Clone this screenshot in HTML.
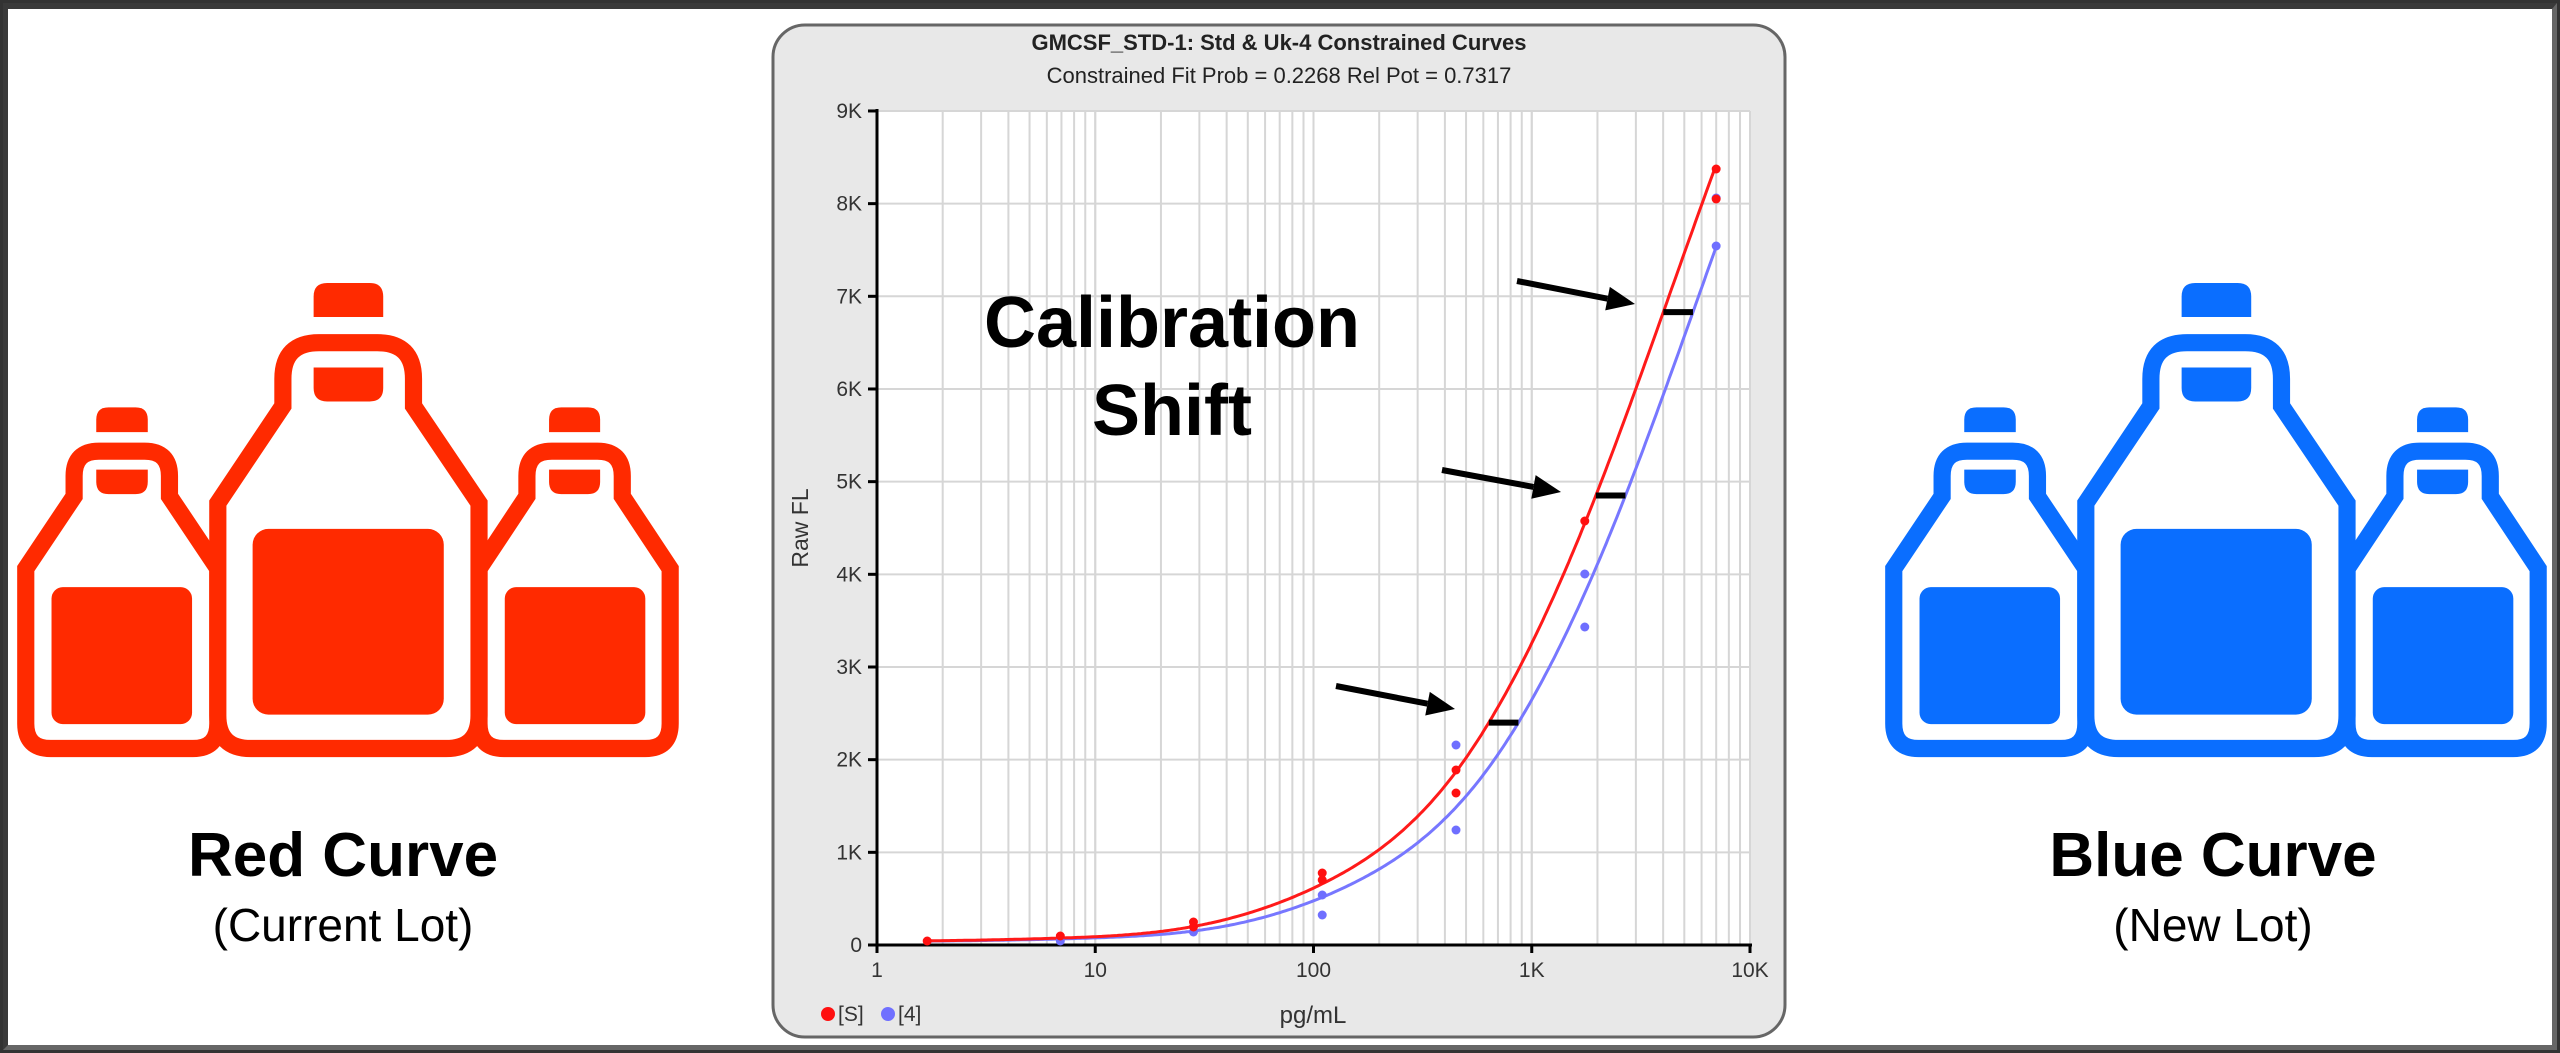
<!DOCTYPE html>
<html><head><meta charset="utf-8"><style>
html,body{margin:0;padding:0;}
body{width:2560px;height:1053px;position:relative;background:#fff;overflow:hidden;font-family:"Liberation Sans",sans-serif;}
.frame{position:absolute;left:0;top:0;width:2560px;height:1053px;box-sizing:border-box;border:3px solid #333;}
.frame2{position:absolute;left:3px;top:3px;right:3px;bottom:3px;border:5px solid #3a3a3a;border-right-color:#666;border-bottom-color:#666;border-top-width:6px;}
.lbl{position:absolute;text-align:center;width:700px;color:#000;}
.big{font-weight:bold;font-size:62px;}
.small{font-size:46px;}
</style></head><body>
<div class="frame"></div><div class="frame2"></div>

<svg style="position:absolute;left:0;top:250px" width="700" height="720" viewBox="0 0 1549 1593">
<g fill="#ff2a00">
 <g fill="#fff" stroke="#ff2a00" stroke-width="38">
  <path d="M164,545 L164,500 Q164,445 219,445 L320,445 Q375,445 375,500 L375,545 L482,705 L482,1048 Q482,1103 427,1103 L112,1103 Q57,1103 57,1048 L57,705 Z"/>
  <path d="M1166,545 L1166,500 Q1166,445 1221,445 L1322,445 Q1377,445 1377,500 L1377,545 L1483,705 L1483,1048 Q1483,1103 1428,1103 L1115,1103 Q1060,1103 1060,1048 L1060,705 Z"/>
  <path d="M626,345 L626,285 Q626,205 706,205 L835,205 Q915,205 915,285 L915,345 L1060,560 L1060,1030 Q1060,1103 987,1103 L555,1103 Q482,1103 482,1030 L482,560 Z"/>
 </g>
 <path d="M694,148 L694,103 Q694,73 724,73 L818,73 Q848,73 848,103 L848,148 Z"/>
 <path d="M694,260 L848,260 L848,305 Q848,335 818,335 L724,335 Q694,335 694,305 Z"/>
 <path d="M213,403 L213,375 Q213,348 240,348 L300,348 Q327,348 327,375 L327,403 Z"/>
 <path d="M213,486 L327,486 L327,513 Q327,540 300,540 L240,540 Q213,540 213,513 Z"/>
 <path d="M1215,403 L1215,375 Q1215,348 1242,348 L1301,348 Q1328,348 1328,375 L1328,403 Z"/>
 <path d="M1215,486 L1328,486 L1328,513 Q1328,540 1301,540 L1242,540 Q1215,540 1215,513 Z"/>
 <rect x="559" y="617" width="423" height="411" rx="35"/>
 <rect x="114" y="746" width="311" height="303" rx="25"/>
 <rect x="1117" y="746" width="311" height="303" rx="25"/>
</g>
</svg>
<svg style="position:absolute;left:1868px;top:250px" width="700" height="720" viewBox="0 0 1549 1593">
<g fill="#0a6eff">
 <g fill="#fff" stroke="#0a6eff" stroke-width="38">
  <path d="M164,545 L164,500 Q164,445 219,445 L320,445 Q375,445 375,500 L375,545 L482,705 L482,1048 Q482,1103 427,1103 L112,1103 Q57,1103 57,1048 L57,705 Z"/>
  <path d="M1166,545 L1166,500 Q1166,445 1221,445 L1322,445 Q1377,445 1377,500 L1377,545 L1483,705 L1483,1048 Q1483,1103 1428,1103 L1115,1103 Q1060,1103 1060,1048 L1060,705 Z"/>
  <path d="M626,345 L626,285 Q626,205 706,205 L835,205 Q915,205 915,285 L915,345 L1060,560 L1060,1030 Q1060,1103 987,1103 L555,1103 Q482,1103 482,1030 L482,560 Z"/>
 </g>
 <path d="M694,148 L694,103 Q694,73 724,73 L818,73 Q848,73 848,103 L848,148 Z"/>
 <path d="M694,260 L848,260 L848,305 Q848,335 818,335 L724,335 Q694,335 694,305 Z"/>
 <path d="M213,403 L213,375 Q213,348 240,348 L300,348 Q327,348 327,375 L327,403 Z"/>
 <path d="M213,486 L327,486 L327,513 Q327,540 300,540 L240,540 Q213,540 213,513 Z"/>
 <path d="M1215,403 L1215,375 Q1215,348 1242,348 L1301,348 Q1328,348 1328,375 L1328,403 Z"/>
 <path d="M1215,486 L1328,486 L1328,513 Q1328,540 1301,540 L1242,540 Q1215,540 1215,513 Z"/>
 <rect x="559" y="617" width="423" height="411" rx="35"/>
 <rect x="114" y="746" width="311" height="303" rx="25"/>
 <rect x="1117" y="746" width="311" height="303" rx="25"/>
</g>
</svg>

<div class="lbl big" style="left:-7px;top:820px;">Red Curve</div>
<div class="lbl small" style="left:-7px;top:898px;">(Current Lot)</div>
<div class="lbl big" style="left:1863px;top:820px;">Blue Curve</div>
<div class="lbl small" style="left:1863px;top:898px;">(New Lot)</div>

<svg id="chart" style="position:absolute;left:0;top:0" width="2560" height="1053">
<rect x="773" y="25" width="1012" height="1012" rx="32" fill="#e8e8e8" stroke="#666" stroke-width="3"/>
<rect x="877" y="111" width="873" height="834" fill="#fff"/>
<g id="grid" stroke="#d6d6d6" stroke-width="2"></g>
<g id="axes" stroke="#000" stroke-width="3"></g>
<g id="ticks" font-family="Liberation Sans, sans-serif" font-size="21" fill="#333"></g>
<text x="1279" y="50" text-anchor="middle" font-family="Liberation Sans, sans-serif" font-weight="bold" font-size="22" fill="#222">GMCSF_STD-1: Std &amp; Uk-4 Constrained Curves</text>
<text x="1279" y="83" text-anchor="middle" font-family="Liberation Sans, sans-serif" font-size="22" fill="#222">Constrained Fit Prob = 0.2268  Rel Pot = 0.7317</text>
<text x="1313" y="1023" text-anchor="middle" font-family="Liberation Sans, sans-serif" font-size="24" fill="#333">pg/mL</text>
<text transform="translate(808,528) rotate(-90)" text-anchor="middle" font-family="Liberation Sans, sans-serif" font-size="23" fill="#333">Raw FL</text>
<circle cx="828" cy="1014" r="7" fill="#ff1010"/>
<text x="838" y="1021" font-family="Liberation Sans, sans-serif" font-size="21" fill="#333">[S]</text>
<circle cx="888" cy="1014" r="7" fill="#7070ff"/>
<text x="898" y="1021" font-family="Liberation Sans, sans-serif" font-size="21" fill="#333">[4]</text>
<g id="curves" fill="none" stroke-width="3"></g>
<g id="dots"></g>
<g id="marks" stroke="#000" stroke-width="6"></g>
<text x="1172" y="347" text-anchor="middle" font-family="Liberation Sans, sans-serif" font-weight="bold" font-size="72" fill="#000">Calibration</text>
<text x="1172" y="435" text-anchor="middle" font-family="Liberation Sans, sans-serif" font-weight="bold" font-size="72" fill="#000">Shift</text>
</svg>
<script>
var NS="http://www.w3.org/2000/svg";
function el(p,t,a,txt){var e=document.createElementNS(NS,t);for(var k in a)e.setAttribute(k,a[k]);if(txt!=null)e.textContent=txt;document.getElementById(p).appendChild(e);return e;}
var X0=877,DW=218.25,Y0=945,YK=92.67;
function px(l){return X0+DW*l;} function py(v){return Y0-v/1000*YK;}
for(var d=0;d<4;d++)for(var m=1;m<=10;m++){var l=d+Math.log10(m);if(m==1&&d==0)continue;el("grid","line",{x1:px(l),x2:px(l),y1:111,y2:945});}
for(var k=1;k<=9;k++)el("grid","line",{x1:877,x2:1750,y1:py(k*1000),y2:py(k*1000)});
el("axes","line",{x1:877,y1:109,x2:877,y2:953});
el("axes","line",{x1:869,y1:945,x2:1752,y2:945});
for(var k=0;k<=9;k++){el("axes","line",{x1:868,x2:877,y1:py(k*1000),y2:py(k*1000)});el("ticks","text",{x:862,y:py(k*1000)+7,"text-anchor":"end"},k==0?"0":k+"K");}
var xl=["1","10","100","1K","10K"];
for(var d=0;d<=4;d++){el("axes","line",{x1:px(d),x2:px(d),y1:945,y2:953});el("ticks","text",{x:px(d),y:977,"text-anchor":"middle"},xl[d]);}
// natural cubic spline
var A=[[-0.5,38],[0.23,45],[0.84,75],[1.45,200],[2.04,660],[2.653,1870],[3.243,4550],[3.845,8420],[4.3,11200]];
var n=A.length,xs=A.map(function(p){return p[0]}),ys=A.map(function(p){return p[1]});
var h=[],al=[],Lr=[1],mu=[0],z=[0],c=new Array(n).fill(0),b=[],dd=[];
for(var i=0;i<n-1;i++)h[i]=xs[i+1]-xs[i];
for(var i=1;i<n-1;i++)al[i]=3/h[i]*(ys[i+1]-ys[i])-3/h[i-1]*(ys[i]-ys[i-1]);
for(var i=1;i<n-1;i++){Lr[i]=2*(xs[i+1]-xs[i-1])-h[i-1]*mu[i-1];mu[i]=h[i]/Lr[i];z[i]=(al[i]-h[i-1]*z[i-1])/Lr[i];}
z[n-1]=0;c[n-1]=0;
for(var j=n-2;j>=0;j--){c[j]=z[j]-mu[j]*c[j+1];b[j]=(ys[j+1]-ys[j])/h[j]-h[j]*(c[j+1]+2*c[j])/3;dd[j]=(c[j+1]-c[j])/(3*h[j]);}
function f(l){var i=0;while(i<n-2&&l>xs[i+1])i++;var t=l-xs[i];return ys[i]+b[i]*t+c[i]*t*t+dd[i]*t*t*t;}
var S=0.1357;
function path(sh){var d="";for(var l=0.23;l<=3.846;l+=0.01){d+=(d?"L":"M")+px(l).toFixed(1)+","+py(f(l-sh)).toFixed(1);}return d;}
el("curves","path",{d:path(S),stroke:"#7777ff"});
el("curves","path",{d:path(0),stroke:"#ff1a1a"});
var rd=[[0.23,941],[0.84,936],[1.45,922],[1.45,927],[2.04,873],[2.04,880],[2.653,770],[2.653,793],[3.243,521],[3.845,169],[3.845,199]];
var bd=[[0.84,941],[1.45,932],[2.04,895],[2.04,915],[2.653,745],[2.653,830],[3.243,574],[3.243,627],[3.845,246],[3.845,198]];
bd.forEach(function(p){el("dots","circle",{cx:px(p[0]),cy:p[1],r:4.5,fill:"#6f6fff"});});
rd.forEach(function(p){el("dots","circle",{cx:px(p[0]),cy:p[1],r:4.5,fill:"#ff1010"});});
function inv(Y){var lo=0,hi=4;for(var k=0;k<50;k++){var m=(lo+hi)/2;if(f(m)<Y)lo=m;else hi=m;}return lo;}
[2400,4850,6830].forEach(function(Y){var l=inv(Y);el("marks","line",{x1:px(l),x2:px(l+S),y1:py(Y),y2:py(Y)});});
function arrow(x1,y1,x2,y2){var a=Math.atan2(y2-y1,x2-x1),L=28,W=12;var bx=x2-L*Math.cos(a),by=y2-L*Math.sin(a);
el("marks","line",{x1:x1,y1:y1,x2:bx,y2:by});
el("marks","polygon",{points:x2+","+y2+" "+(bx+W*Math.sin(a))+","+(by-W*Math.cos(a))+" "+(bx-W*Math.sin(a))+","+(by+W*Math.cos(a)),fill:"#000",stroke:"none"});}
arrow(1517,281,1635,304);arrow(1442,470,1561,492);arrow(1336,686,1455,709);
</script>
</body></html>
